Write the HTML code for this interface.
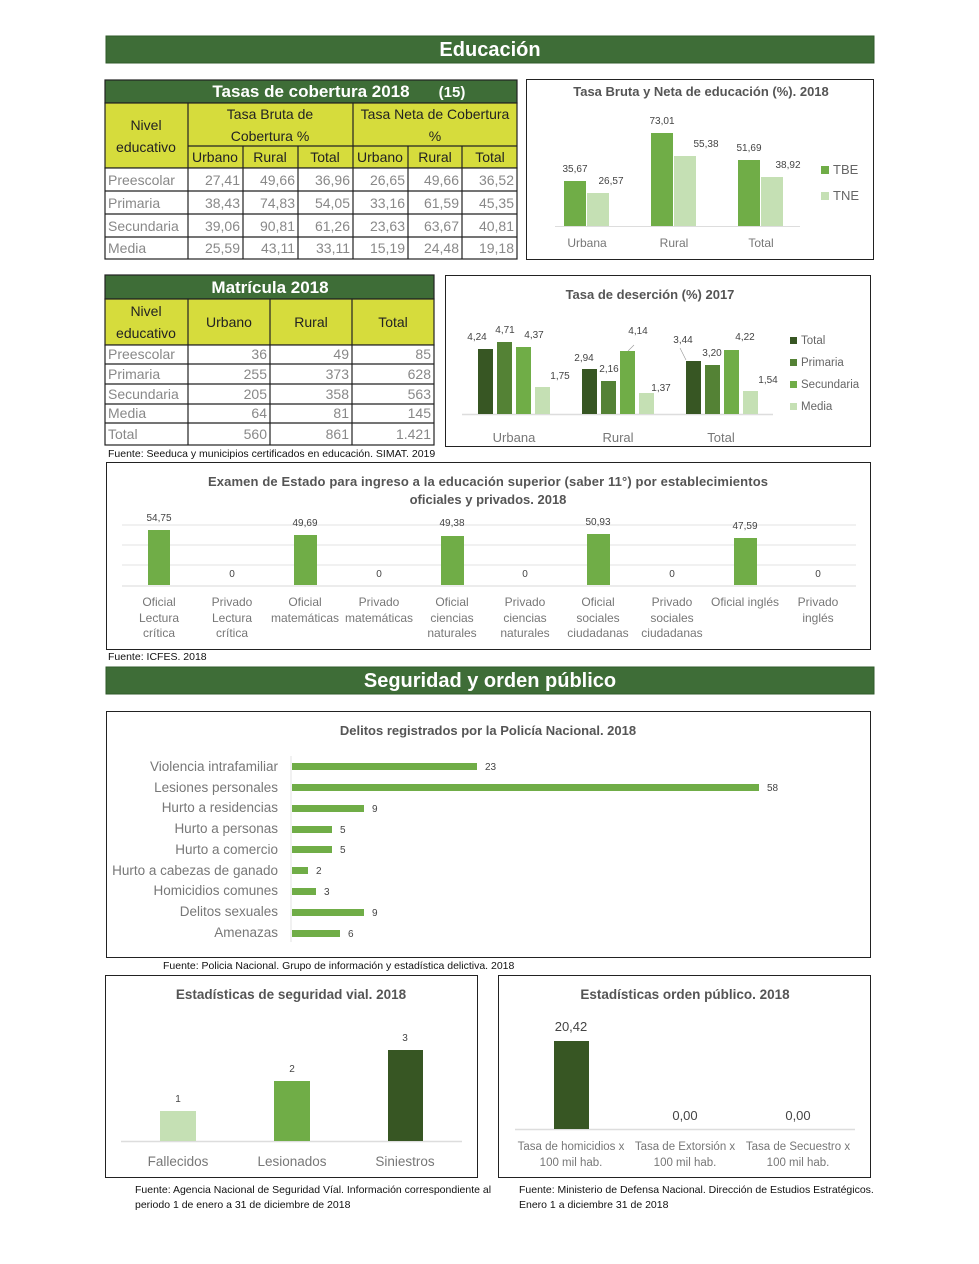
<!DOCTYPE html>
<html><head><meta charset="utf-8"><style>
html,body{margin:0;padding:0;background:#fff}
svg{display:block}
text{font-family:"Liberation Sans",sans-serif}
</style></head><body>
<svg width="979" height="1264" viewBox="0 0 979 1264" xmlns="http://www.w3.org/2000/svg">
<rect width="979" height="1264" fill="#fff"/>
<rect x="106" y="36" width="768" height="27" fill="#3e6d37" stroke="#2f5a2a"/>
<text x="490" y="56" font-size="20" font-weight="bold" fill="#fff" text-anchor="middle">Educación</text>
<rect x="106" y="667" width="768" height="27" fill="#3e6d37" stroke="#2f5a2a"/>
<text x="490" y="687" font-size="20" font-weight="bold" fill="#fff" text-anchor="middle">Seguridad y orden público</text>

<g stroke="#222" stroke-width="1.2">
<rect x="105" y="80" width="412" height="23" fill="#3e6d37"/>
<rect x="105" y="103" width="412" height="65" fill="#d6dc3c"/>
<rect x="105" y="168" width="412" height="91" fill="#fff"/>
<line x1="188" y1="103" x2="188" y2="259"/>
<line x1="353" y1="103" x2="353" y2="259"/>
<line x1="188" y1="146" x2="517" y2="146"/>
<line x1="243" y1="146" x2="243" y2="259"/><line x1="298" y1="146" x2="298" y2="259"/>
<line x1="408" y1="146" x2="408" y2="259"/><line x1="462" y1="146" x2="462" y2="259"/>
<line x1="105" y1="191" x2="517" y2="191"/><line x1="105" y1="214" x2="517" y2="214"/><line x1="105" y1="237" x2="517" y2="237"/>
</g>
<text x="311" y="97" font-size="17" font-weight="bold" fill="#fff" text-anchor="middle">Tasas de cobertura 2018</text>
<text x="452" y="97" font-size="15" font-weight="bold" fill="#fff" text-anchor="middle">(15)</text>
<g font-size="14" fill="#222" text-anchor="middle">
<text x="146" y="130">Nivel</text><text x="146" y="152">educativo</text>
<text x="270" y="119">Tasa Bruta de</text><text x="270" y="141">Cobertura  %</text>
<text x="435" y="119">Tasa Neta de Cobertura</text><text x="435" y="141">%</text>
<text x="215" y="162">Urbano</text><text x="270" y="162">Rural</text><text x="325" y="162">Total</text>
<text x="380" y="162">Urbano</text><text x="435" y="162">Rural</text><text x="490" y="162">Total</text>
</g>
<g font-size="14" fill="#888">
<text x="108" y="185">Preescolar</text><text x="108" y="208">Primaria</text><text x="108" y="231">Secundaria</text><text x="108" y="253">Media</text>
</g>
<g font-size="14" fill="#888" text-anchor="end">
<text x="240" y="185">27,41</text><text x="295" y="185">49,66</text><text x="350" y="185">36,96</text><text x="405" y="185">26,65</text><text x="459" y="185">49,66</text><text x="514" y="185">36,52</text>
<text x="240" y="208">38,43</text><text x="295" y="208">74,83</text><text x="350" y="208">54,05</text><text x="405" y="208">33,16</text><text x="459" y="208">61,59</text><text x="514" y="208">45,35</text>
<text x="240" y="231">39,06</text><text x="295" y="231">90,81</text><text x="350" y="231">61,26</text><text x="405" y="231">23,63</text><text x="459" y="231">63,67</text><text x="514" y="231">40,81</text>
<text x="240" y="253">25,59</text><text x="295" y="253">43,11</text><text x="350" y="253">33,11</text><text x="405" y="253">15,19</text><text x="459" y="253">24,48</text><text x="514" y="253">19,18</text>
</g>

<rect x="526.5" y="79.5" width="347" height="180" fill="#fff" stroke="#222"/>
<text x="701" y="96" font-size="13" font-weight="bold" fill="#555" text-anchor="middle">Tasa Bruta y Neta de educación (%). 2018</text>
<line x1="555" y1="226.5" x2="800" y2="226.5" stroke="#ddd"/>
<g fill="#70ad47"><rect x="564" y="181" width="22" height="45"/><rect x="651" y="133" width="22" height="93"/><rect x="738" y="160" width="22" height="66"/></g>
<g fill="#c5e0b4"><rect x="587" y="193" width="22" height="33"/><rect x="674" y="156" width="22" height="70"/><rect x="761" y="177" width="22" height="49"/></g>
<g font-size="10" fill="#444" text-anchor="middle">
<text x="575" y="172">35,67</text><text x="611" y="184">26,57</text>
<text x="662" y="124">73,01</text><text x="706" y="147">55,38</text>
<text x="749" y="151">51,69</text><text x="788" y="168">38,92</text>
</g>
<g font-size="12" fill="#777" text-anchor="middle"><text x="587" y="247">Urbana</text><text x="674" y="247">Rural</text><text x="761" y="247">Total</text></g>
<rect x="821" y="166" width="8" height="8" fill="#70ad47"/><text x="833" y="174" font-size="13" fill="#666">TBE</text>
<rect x="821" y="192" width="8" height="8" fill="#c5e0b4"/><text x="833" y="200" font-size="13" fill="#666">TNE</text>

<g stroke="#222" stroke-width="1.2">
<rect x="105" y="275" width="329" height="24" fill="#3e6d37"/>
<rect x="105" y="299" width="329" height="46" fill="#d6dc3c"/>
<rect x="105" y="345" width="329" height="100" fill="#fff"/>
<line x1="188" y1="299" x2="188" y2="445"/><line x1="270" y1="299" x2="270" y2="445"/><line x1="352" y1="299" x2="352" y2="445"/>
<line x1="105" y1="364" x2="434" y2="364"/><line x1="105" y1="384" x2="434" y2="384"/><line x1="105" y1="404" x2="434" y2="404"/><line x1="105" y1="423" x2="434" y2="423"/>
</g>
<text x="270" y="293" font-size="17" font-weight="bold" fill="#fff" text-anchor="middle">Matrícula 2018</text>
<g font-size="14" fill="#222" text-anchor="middle">
<text x="146" y="316">Nivel</text><text x="146" y="338">educativo</text>
<text x="229" y="327">Urbano</text><text x="311" y="327">Rural</text><text x="393" y="327">Total</text>
</g>
<g font-size="14" fill="#888">
<text x="108" y="359">Preescolar</text><text x="108" y="379">Primaria</text><text x="108" y="399">Secundaria</text><text x="108" y="418">Media</text><text x="108" y="439">Total</text>
</g>
<g font-size="14" fill="#888" text-anchor="end">
<text x="267" y="359">36</text><text x="349" y="359">49</text><text x="431" y="359">85</text>
<text x="267" y="379">255</text><text x="349" y="379">373</text><text x="431" y="379">628</text>
<text x="267" y="399">205</text><text x="349" y="399">358</text><text x="431" y="399">563</text>
<text x="267" y="418">64</text><text x="349" y="418">81</text><text x="431" y="418">145</text>
<text x="267" y="439">560</text><text x="349" y="439">861</text><text x="431" y="439">1.421</text>
</g>
<text x="108" y="457" font-size="10.5" fill="#111">Fuente: Seeduca y municipios certificados en educación. SIMAT. 2019</text>

<rect x="445.5" y="275.5" width="425" height="171" fill="#fff" stroke="#222"/>
<text x="650" y="299" font-size="13" font-weight="bold" fill="#555" text-anchor="middle">Tasa de deserción (%) 2017</text>
<line x1="462" y1="414.5" x2="773" y2="414.5" stroke="#ddd" stroke-width="1.5"/>
<g fill="#375623"><rect x="478" y="349" width="15" height="65"/><rect x="582" y="369" width="15" height="45"/><rect x="686" y="361" width="15" height="53"/></g>
<g fill="#548235"><rect x="497" y="342" width="15" height="72"/><rect x="601" y="381" width="15" height="33"/><rect x="705" y="365" width="15" height="49"/></g>
<g fill="#70ad47"><rect x="516" y="347" width="15" height="67"/><rect x="620" y="351" width="15" height="63"/><rect x="724" y="350" width="15" height="64"/></g>
<g fill="#c5e0b4"><rect x="535" y="387" width="15" height="27"/><rect x="639" y="393" width="15" height="21"/><rect x="743" y="391" width="15" height="23"/></g>
<g font-size="10" fill="#444" text-anchor="middle">
<text x="477" y="340">4,24</text><text x="505" y="333">4,71</text><text x="534" y="338">4,37</text><text x="560" y="379">1,75</text>
<text x="584" y="361">2,94</text><text x="609" y="372">2,16</text><text x="638" y="334">4,14</text><text x="661" y="391">1,37</text>
<text x="683" y="343">3,44</text><text x="712" y="356">3,20</text><text x="745" y="340">4,22</text><text x="768" y="383">1,54</text>
</g>
<line x1="628" y1="351" x2="634" y2="345" stroke="#999" stroke-width="0.6"/>
<line x1="686" y1="360" x2="680" y2="348" stroke="#999" stroke-width="0.6"/>
<g font-size="13" fill="#777" text-anchor="middle"><text x="514" y="442">Urbana</text><text x="618" y="442">Rural</text><text x="721" y="442">Total</text></g>
<g font-size="11.5" fill="#666">
<rect x="790" y="337" width="7" height="7" fill="#375623"/><text x="801" y="344">Total</text>
<rect x="790" y="359" width="7" height="7" fill="#548235"/><text x="801" y="366">Primaria</text>
<rect x="790" y="381" width="7" height="7" fill="#70ad47"/><text x="801" y="388">Secundaria</text>
<rect x="790" y="403" width="7" height="7" fill="#c5e0b4"/><text x="801" y="410">Media</text>
</g>

<rect x="106.5" y="462.5" width="764" height="187" fill="#fff" stroke="#222"/>
<text x="488" y="486" font-size="13" font-weight="bold" fill="#555" text-anchor="middle" textLength="560">Examen de Estado para ingreso a la educación superior (saber 11°) por establecimientos</text>
<text x="488" y="504" font-size="13" font-weight="bold" fill="#555" text-anchor="middle">oficiales y privados. 2018</text>
<g stroke="#e3e3e3"><line x1="122" y1="525" x2="856" y2="525"/><line x1="122" y1="545" x2="856" y2="545"/><line x1="122" y1="565" x2="856" y2="565"/><line x1="122" y1="586" x2="856" y2="586" stroke="#d8d8d8"/></g>
<g fill="#70ad47"><rect x="148" y="530" width="22" height="55"/><rect x="294" y="535" width="23" height="50"/><rect x="441" y="536" width="23" height="49"/><rect x="587" y="534" width="23" height="51"/><rect x="734" y="538" width="23" height="47"/></g>
<g font-size="10" fill="#444" text-anchor="middle">
<text x="159" y="521">54,75</text><text x="305" y="526">49,69</text><text x="452" y="526">49,38</text><text x="598" y="525">50,93</text><text x="745" y="529">47,59</text>
<text x="232" y="577">0</text><text x="379" y="577">0</text><text x="525" y="577">0</text><text x="672" y="577">0</text><text x="818" y="577">0</text>
</g>
<g font-size="12" fill="#777" text-anchor="middle">
<text x="159" y="606">Oficial</text><text x="159" y="622">Lectura</text><text x="159" y="637">crítica</text>
<text x="232" y="606">Privado</text><text x="232" y="622">Lectura</text><text x="232" y="637">crítica</text>
<text x="305" y="606">Oficial</text><text x="305" y="622">matemáticas</text>
<text x="379" y="606">Privado</text><text x="379" y="622">matemáticas</text>
<text x="452" y="606">Oficial</text><text x="452" y="622">ciencias</text><text x="452" y="637">naturales</text>
<text x="525" y="606">Privado</text><text x="525" y="622">ciencias</text><text x="525" y="637">naturales</text>
<text x="598" y="606">Oficial</text><text x="598" y="622">sociales</text><text x="598" y="637">ciudadanas</text>
<text x="672" y="606">Privado</text><text x="672" y="622">sociales</text><text x="672" y="637">ciudadanas</text>
<text x="745" y="606">Oficial inglés</text>
<text x="818" y="606">Privado</text><text x="818" y="622">inglés</text>
</g>
<text x="108" y="660" font-size="10.5" fill="#111">Fuente: ICFES. 2018</text>

<rect x="106.5" y="711.5" width="764" height="246" fill="#fff" stroke="#222"/>
<text x="488" y="735" font-size="13" font-weight="bold" fill="#555" text-anchor="middle">Delitos registrados por la Policía Nacional. 2018</text>
<line x1="291" y1="756" x2="291" y2="942" stroke="#e3e3e3"/>
<g fill="#70ad47">
<rect x="292" y="763" width="185" height="7"/><rect x="292" y="784" width="467" height="7"/><rect x="292" y="805" width="72" height="7"/>
<rect x="292" y="826" width="40" height="7"/><rect x="292" y="846" width="40" height="7"/><rect x="292" y="867" width="16" height="7"/>
<rect x="292" y="888" width="24" height="7"/><rect x="292" y="909" width="72" height="7"/><rect x="292" y="930" width="48" height="7"/>
</g>
<g font-size="10" fill="#444">
<text x="485" y="770">23</text><text x="767" y="791">58</text><text x="372" y="812">9</text><text x="340" y="833">5</text><text x="340" y="853">5</text>
<text x="316" y="874">2</text><text x="324" y="895">3</text><text x="372" y="916">9</text><text x="348" y="937">6</text>
</g>
<g font-size="13.5" fill="#777" text-anchor="end">
<text x="278" y="771">Violencia intrafamiliar</text><text x="278" y="792">Lesiones personales</text><text x="278" y="812">Hurto a residencias</text>
<text x="278" y="833">Hurto a personas</text><text x="278" y="854">Hurto a comercio</text><text x="278" y="875">Hurto a cabezas de ganado</text>
<text x="278" y="895">Homicidios comunes</text><text x="278" y="916">Delitos sexuales</text><text x="278" y="937">Amenazas</text>
</g>
<text x="163" y="969" font-size="10.5" fill="#111">Fuente: Policia Nacional. Grupo de información y estadística delictiva. 2018</text>

<rect x="105.5" y="975.5" width="372" height="202" fill="#fff" stroke="#222"/>
<text x="291" y="999" font-size="13.5" font-weight="bold" fill="#555" text-anchor="middle">Estadísticas de seguridad vial. 2018</text>
<line x1="121" y1="1141.5" x2="462" y2="1141.5" stroke="#ddd" stroke-width="1.5"/>
<rect x="160" y="1111" width="36" height="30" fill="#c5e0b4"/>
<rect x="274" y="1081" width="36" height="60" fill="#70ad47"/>
<rect x="388" y="1050" width="35" height="91" fill="#375623"/>
<g font-size="10" fill="#444" text-anchor="middle"><text x="178" y="1102">1</text><text x="292" y="1072">2</text><text x="405" y="1041">3</text></g>
<g font-size="13.5" fill="#777" text-anchor="middle"><text x="178" y="1166">Fallecidos</text><text x="292" y="1166">Lesionados</text><text x="405" y="1166">Siniestros</text></g>
<text x="135" y="1193" font-size="10.5" fill="#111">Fuente: Agencia Nacional de Seguridad Víal. Información correspondiente al</text>
<text x="135" y="1208" font-size="10.5" fill="#111">periodo 1 de enero a 31 de diciembre de 2018</text>

<rect x="498.5" y="975.5" width="372" height="202" fill="#fff" stroke="#222"/>
<text x="685" y="999" font-size="13.5" font-weight="bold" fill="#555" text-anchor="middle">Estadísticas orden público. 2018</text>
<line x1="515" y1="1129.5" x2="855" y2="1129.5" stroke="#ddd" stroke-width="1.5"/>
<rect x="554" y="1041" width="35" height="88" fill="#375623"/>
<g font-size="13" fill="#444" text-anchor="middle"><text x="571" y="1031">20,42</text><text x="685" y="1120">0,00</text><text x="798" y="1120">0,00</text></g>
<g font-size="11.5" fill="#777" text-anchor="middle">
<text x="571" y="1150">Tasa de homicidios x</text><text x="571" y="1166">100 mil hab.</text>
<text x="685" y="1150">Tasa de Extorsión x</text><text x="685" y="1166">100 mil hab.</text>
<text x="798" y="1150">Tasa de Secuestro x</text><text x="798" y="1166">100 mil hab.</text>
</g>
<text x="519" y="1193" font-size="10.5" fill="#111">Fuente: Ministerio de Defensa Nacional. Dirección de Estudios Estratégicos.</text>
<text x="519" y="1208" font-size="10.5" fill="#111">Enero 1 a diciembre 31 de 2018</text>
</svg>
</body></html>
